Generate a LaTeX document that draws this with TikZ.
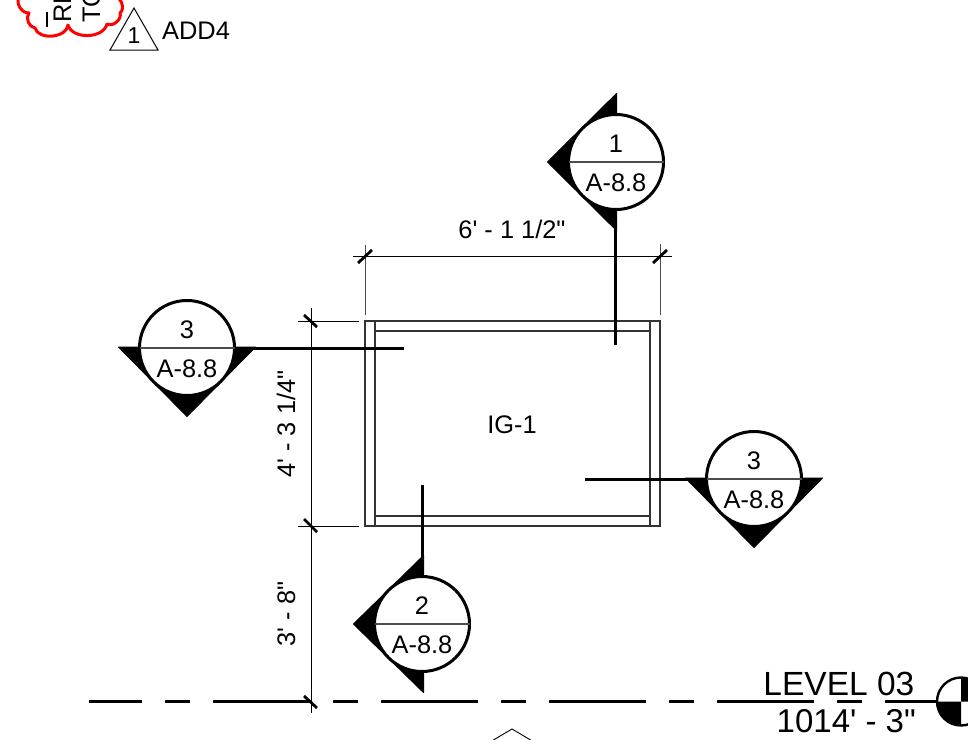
\documentclass[tikz,border=0pt]{standalone}
\usepackage{fontspec}
\newfontfamily\arl{Liberation Sans}
\tikzset{
  thinline/.style={line width=0.9pt,black},
  frameline/.style={line width=1.2pt,black!80},
  tick/.style={line width=2.8pt,black},
  levelline/.style={line width=2.2pt,black},
  cutline/.style={line width=3pt,black},
  wedge/.style={fill=black,draw=black,line width=1pt,line join=round},
  bubble/.style={circle,draw=black,fill=white,line width=3pt,minimum size=95pt,inner sep=0pt,outer sep=0pt},
  divider/.style={line width=1.5pt,black!70},
  lbl/.style={font=\arl\fontsize{25.4}{30}\selectfont,inner sep=0pt,anchor=base},
  biglbl/.style={font=\arl\fontsize{33}{38}\selectfont,inner sep=0pt,anchor=base east},
  cloud/.style={line width=3pt,red,line cap=round,line join=round},
}
\begin{document}
\begin{tikzpicture}[x=1pt,y=-1pt]
\path[fill=white] (0,0) rectangle (968,739);
\clip (0,0) rectangle (968,739);
% revision cloud
\draw[cloud] (19,-3) to[bend right=60] (29,13) to[bend right=60] (35,28)
  to[bend right=80] (68,25) to[bend right=75] (107,24) to[bend right=70] (120,13) to[bend right=70] (115,-3);
\node[lbl,rotate=90,anchor=base west] (rev1) at (71,23) {RE};
\node[lbl,rotate=90,anchor=base west] (rev2) at (100,23) {TO};
\coordinate (barA) at (47,12); \coordinate (barB) at (47,27);
\draw[line width=1.5pt] (barA) -- (barB);
% revision delta
\coordinate (dT) at (134,8); \coordinate (dL) at (110,50); \coordinate (dR) at (158,50);
\draw[line width=1pt,line join=miter] (dT) -- (dL) -- (dR) -- cycle;
\node[lbl,font=\arl\fontsize{23}{28}\selectfont] (deltanum) at (134,43) {1};
\node[lbl,anchor=base west] (add) at (162,39) {ADD4};
% frame
\coordinate (fa) at (365,321); \coordinate (fb) at (660,526);
\draw[frameline] (fa) rectangle (fb);
\draw[frameline] (375,321) -- (375,526);
\draw[frameline] (650,321) -- (650,526);
\draw[frameline] (375,331) -- (650,331);
\draw[frameline] (375,516) -- (650,516);
\node[lbl] (ig) at (512,433) {IG-1};
% horizontal dimension
\coordinate (hdA) at (353,256); \coordinate (hdB) at (672,256);
\draw[thinline] (hdA) -- (hdB);
\draw[thinline,black!70] (365,245) -- (365,315);
\draw[thinline,black!70] (660,244) -- (660,315);
\draw[tick] (358,263) -- (372,250);
\draw[tick] (653,263) -- (667,250);
\node[lbl] (hdt) at (512,238) {6' - 1 1/2"};
% vertical dimension
\coordinate (vdA) at (311,308); \coordinate (vdB) at (311,713);
\draw[thinline] (vdA) -- (vdB);
\draw[thinline] (298,321) -- (359,321);
\draw[thinline] (298,526) -- (359,526);
\draw[tick] (304,315) -- (317,327);
\draw[tick] (304,519) -- (317,532);
\draw[tick] (304,696) -- (317,708);
\node[lbl,rotate=90,anchor=base] (vdt1) at (295,424) {4' - 3 1/4"};
\node[lbl,rotate=90,anchor=base] (vdt2) at (295,614) {3' - 8"};
% level line
\foreach \a/\b in {89/142,165/190,213/311,333/358,381/478,501/526,549/646,669/694,717/814,837/862,885/938}
  \draw[levelline] (\a,701.5) -- (\b,701.5);
\node[lbl,font=\arl\fontsize{33.5}{38}\selectfont,anchor=base east] (lev) at (914.5,695) {LEVEL 03};
\node[biglbl] (elev) at (916,732) {1014' - 3"};
\node[circle,draw=black,line width=2.4pt,minimum size=48pt,inner sep=0pt,outer sep=0pt] (datum) at (961,701.5) {};
\fill (961,701.5) -- (937,701.5) arc[start angle=180,end angle=90,radius=24] -- cycle;
\fill (961,701.5) -- (985,701.5) arc[start angle=0,end angle=-90,radius=24] -- cycle;
% chevron below
\coordinate (chL) at (490,742); \coordinate (chT) at (512,729); \coordinate (chR) at (534,742);
\draw[thinline] (chL) -- (chT) -- (chR);
% section marker 1
\coordinate (t1) at (616.5,93.5); \coordinate (a1) at (547.5,162); \coordinate (b1) at (616.5,230.5); \coordinate (c1) at (615.5,225); \coordinate (e1) at (615.5,345);
\draw[cutline] (c1) -- (e1);
\filldraw[wedge] (t1) -- (a1) -- (b1) -- cycle;
\node[bubble] (m1) at (616,162) {};
\draw[divider] (m1.west) -- (m1.east);
\node[lbl] (m1n) at (616,152) {1};
\node[lbl] (m1s) at (616,191) {A-8.8};
% section marker 2
\coordinate (t2) at (423.5,555.5); \coordinate (a2) at (353.5,624); \coordinate (b2) at (423.5,692.5); \coordinate (c2) at (422.3,560); \coordinate (e2) at (422.3,485);
\draw[cutline] (c2) -- (e2);
\filldraw[wedge] (t2) -- (a2) -- (b2) -- cycle;
\node[bubble] (m2) at (422,624) {};
\draw[divider] (m2.west) -- (m2.east);
\node[lbl] (m2n) at (422,614) {2};
\node[lbl] (m2s) at (422,653) {A-8.8};
% section marker 3 left
\coordinate (t3) at (118.5,347); \coordinate (a3) at (187,416.5); \coordinate (b3) at (255.5,347); \coordinate (c3) at (250,348); \coordinate (e3) at (404,348);
\draw[cutline] (c3) -- (e3);
\filldraw[wedge] (t3) -- (a3) -- (b3) -- cycle;
\node[bubble] (m3) at (187,348) {};
\draw[divider] (m3.west) -- (m3.east);
\node[lbl] (m3n) at (187,338) {3};
\node[lbl] (m3s) at (187,377) {A-8.8};
% section marker 3 right
\coordinate (t4) at (685.5,478); \coordinate (a4) at (754,547.5); \coordinate (b4) at (822.5,478); \coordinate (c4) at (691,479); \coordinate (e4) at (585,479);
\draw[cutline] (c4) -- (e4);
\filldraw[wedge] (t4) -- (a4) -- (b4) -- cycle;
\node[bubble] (m4) at (754,479) {};
\draw[divider] (m4.west) -- (m4.east);
\node[lbl] (m4n) at (754,469) {3};
\node[lbl] (m4s) at (754,508) {A-8.8};
\end{tikzpicture}
\end{document}
